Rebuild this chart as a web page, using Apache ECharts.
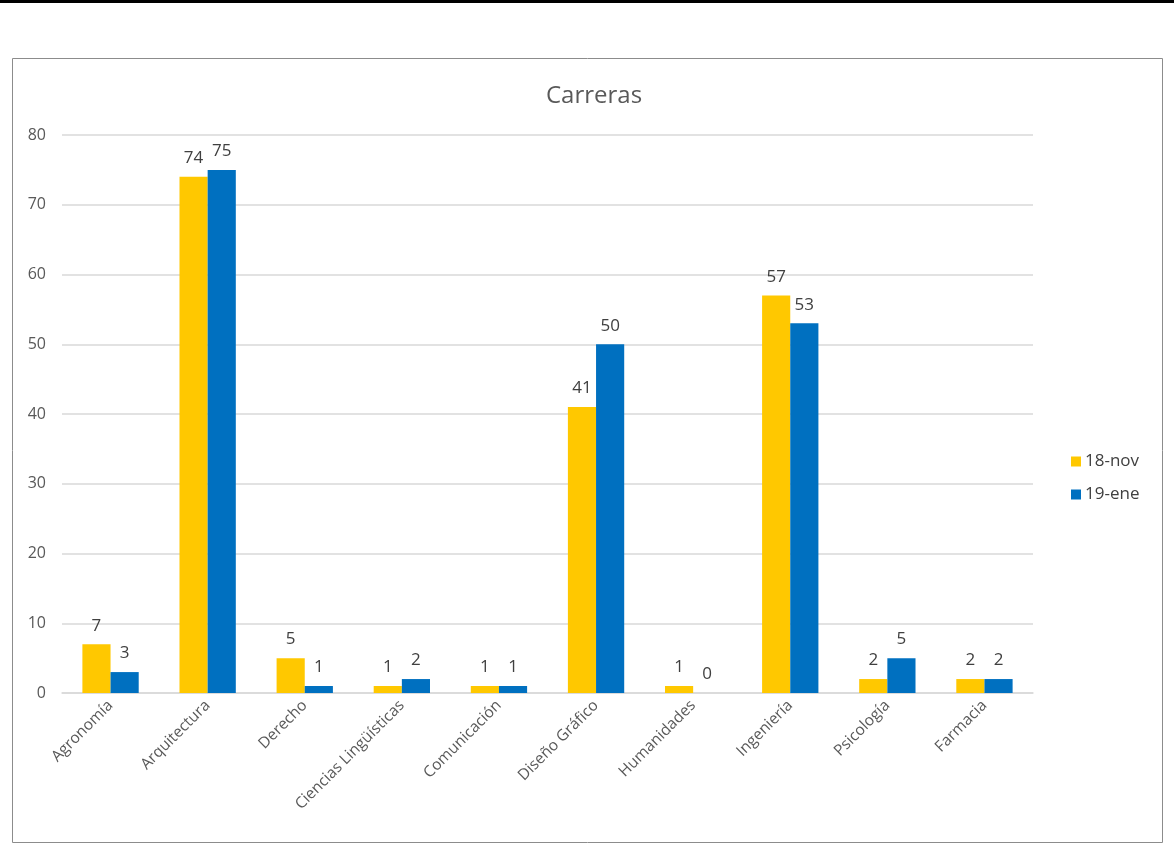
<!DOCTYPE html>
<html>
<head>
<meta charset="utf-8">
<script src="https://cdn.jsdelivr.net/npm/echarts@6/dist/echarts.min.js"></script>
<style>
html,body{margin:0;padding:0;background:#fff;}
#c{width:1174px;height:844px;}
</style>
</head>
<body>
<div id="c"></div>
<script>
const categories = ['Agronomía','Arquitectura','Derecho','Ciencias Lingüísticas','Comunicación','Diseño Gráfico','Humanidades','Ingeniería','Psicología','Farmacia'];
const seriesNames = ['18-nov','19-ene'];
const nov18 = [7,74,5,1,1,41,1,57,2,2];
const ene19 = [3,75,1,2,1,50,0,53,5,2];
const yTicks = {min:0, max:80, interval:10};

const font = '"Open Sans", "Noto Sans", sans-serif';
const chart = echarts.init(document.getElementById('c'), null, {renderer:'canvas'});
chart.setOption({
  animation:false,
  backgroundColor:'#fff',
  textStyle:{fontFamily:font},
  graphic:[
    {type:'rect', shape:{x:0,y:0,width:1174,height:3}, style:{fill:'#000'}, silent:true},
    {type:'rect', shape:{x:12.5,y:58.5,width:1150,height:784}, style:{fill:'none',stroke:'#8c8c8c',lineWidth:1}, silent:true}
  ],
  title:{
    text:'Carreras', left:589, top:79, textAlign:'center',
    textStyle:{fontFamily:font, fontSize:24, fontWeight:'normal', color:'#595959'}
  },
  legend:{
    orient:'vertical', left:1066, top:448, itemWidth:10, itemHeight:10, itemGap:16,
    icon:'rect',
    textStyle:{fontFamily:font, fontSize:17, color:'#404040', padding:[0,0,0,-1]},
    data:seriesNames
  },
  grid:{left:62, right:141, top:135, bottom:151, containLabel:false},
  xAxis:{
    type:'category', data:categories,
    axisLine:{lineStyle:{color:'#d9d9d9', width:1.5}},
    axisTick:{show:false},
    axisLabel:{rotate:45, margin:10, interval:0, color:'#595959', fontSize:15.5, fontFamily:font}
  },
  yAxis:{
    type:'value', min:yTicks.min, max:yTicks.max, interval:yTicks.interval,
    axisLine:{show:false}, axisTick:{show:false},
    splitLine:{lineStyle:{color:'#d9d9d9', width:1.5}},
    axisLabel:{color:'#595959', fontSize:16, margin:16, fontFamily:font}
  },
  series:[
    {name:seriesNames[0], type:'bar', data:nov18, barGap:'0%', barCategoryGap:'42%',
     itemStyle:{color:'#ffc800'},
     label:{show:true, position:'top', distance:10, color:'#404040', fontSize:17, fontFamily:font}},
    {name:seriesNames[1], type:'bar', data:ene19, barGap:'0%', barCategoryGap:'42%',
     itemStyle:{color:'#0070c0'},
     label:{show:true, position:'top', distance:10, color:'#404040', fontSize:17, fontFamily:font}}
  ]
});
</script>
</body>
</html>
